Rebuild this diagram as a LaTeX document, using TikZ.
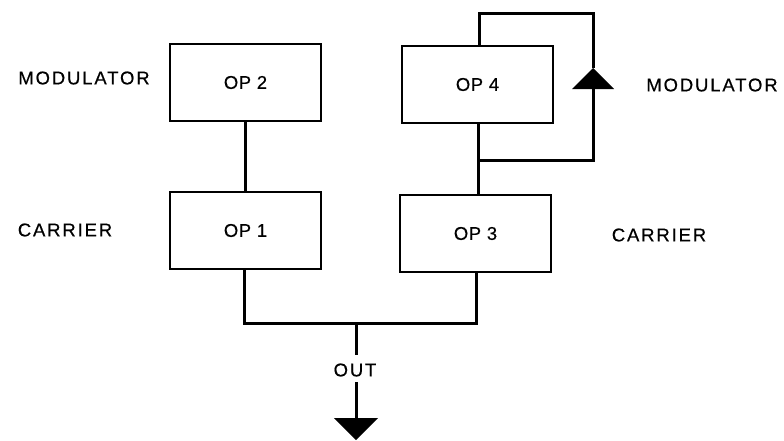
\documentclass[tikz,border=0pt]{standalone}
\usepackage{fontspec}
\setmainfont{Liberation Sans}
\newfontfamily\lblfont[LetterSpace=10,FakeBold=0.4]{Liberation Sans}
\newfontfamily\opfont[LetterSpace=3,FakeBold=0.4]{Liberation Sans}
\begin{document}
\begin{tikzpicture}[x=1pt,y=-1pt,
  opbox/.style={draw, line width=2.4pt, minimum width=151pt, minimum height=77pt,
    inner sep=0pt, font=\opfont\fontsize{18.5}{20}\selectfont},
  lbl/.style={inner sep=0pt, font=\lblfont\fontsize{18.5}{20}\selectfont},
  wire/.style={line width=3pt, line join=miter},
  tipfill/.style={fill=black, draw=none}]
  \useasboundingbox (0,0) rectangle (784,440);

  % operator boxes
  \node[opbox] (op2) at (245.5,82.5) {OP 2};
  \node[opbox] (op1) at (245.5,230.5) {OP 1};
  \node[opbox] (op4) at (477.5,84.5) {OP 4};
  \node[opbox] (op3) at (475.5,233.5) {OP 3};

  % side labels
  \node[lbl] (modL) at (84,78) {MODULATOR};
  \node[lbl] (carL) at (65,230) {CARRIER};
  \node[lbl] (modR) at (712,85) {MODULATOR};
  \node[lbl] (carR) at (659,235) {CARRIER};

  % stack connections
  \draw[wire] (op2.south) -- (op1.north);
  \draw[wire] (op4.south -| 478,0) -- (op3.north -| 478,0);

  % feedback loop around OP 4
  \coordinate (fbTop) at (593,13);
  \coordinate (fbTip) at (593,68);
  \coordinate (fbBase) at (593,89);
  \coordinate (fbJoin) at (478,160);
  \draw[wire] (op4.north -| 479,0) |- (fbTop) -- (fbTip);
  \fill[tipfill] (fbTip) -- (572,89) -- (614,89) -- cycle;
  \draw[wire] (fbBase) |- (fbJoin);

  % output bus
  \coordinate (busL) at (244,323);
  \coordinate (busR) at (476,323);
  \coordinate (busM) at (356,323);
  \coordinate (outHead) at (356,355);
  \draw[wire] (op1.south -| busL) -- (busL) -- (busR) -- (op3.south -| busR);
  \node[lbl] (out) at (355,370) {OUT};
  \draw[wire] (busM) -- (outHead);
  \coordinate (outTail) at (356,382);
  \coordinate (outBase) at (356,418);
  \draw[wire] (outTail) -- (outBase);
  \fill[tipfill] (334,418) -- (378,418) -- (356,440) -- cycle;
\end{tikzpicture}
\end{document}
